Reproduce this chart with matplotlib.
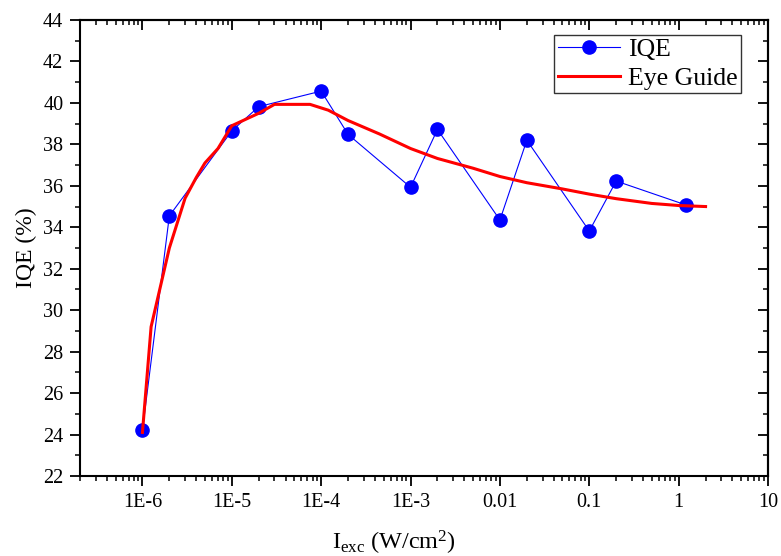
import matplotlib
matplotlib.use("Agg")
import matplotlib.pyplot as plt
from matplotlib.ticker import FixedLocator, FixedFormatter, LogLocator, MultipleLocator, NullFormatter

plt.rcParams['font.family'] = ['Liberation Serif', 'DejaVu Serif']
plt.rcParams['mathtext.fontset'] = 'custom'
plt.rcParams['mathtext.rm'] = 'Liberation Serif'
plt.rcParams['mathtext.it'] = 'Liberation Serif:italic'

# IQE data
iexc = [1e-6, 2e-6, 1e-5, 2e-5, 1e-4, 2e-4, 1e-3, 2e-3, 0.01, 0.02, 0.1, 0.2, 1.2]
iqe = [24.2, 34.55, 38.65, 39.82, 40.57, 38.48, 35.93, 38.72, 34.35, 38.2, 33.82, 36.23, 35.08]

# eye guide curve
guide_x = [1e-6, 1.25e-6, 2e-6, 3e-6, 4e-6, 5e-6, 7e-6, 1e-5, 2e-5, 3e-5, 7.5e-5, 1.2e-4,
           2e-4, 4.5e-4, 1e-3, 2e-3, 5e-3, 0.01, 0.02, 0.05, 0.1, 0.2, 0.5, 1, 2]
guide_y = [24.1, 29.2, 33.0, 35.4, 36.4, 37.1, 37.8, 38.9, 39.5, 39.93, 39.93, 39.65,
           39.15, 38.5, 37.8, 37.32, 36.85, 36.45, 36.15, 35.85, 35.6, 35.38, 35.15, 35.05, 35.0]

xticks = [1e-6, 1e-5, 1e-4, 1e-3, 0.01, 0.1, 1, 10]
xticklabels = ['1E-6', '1E-5', '1E-4', '1E-3', '0.01', '0.1', '1', '10']

fig = plt.figure(figsize=(7.81, 5.56), dpi=100)
ax = fig.add_axes([0.1024, 0.1439, 0.881, 0.8201])

ax.plot(iexc, iqe, '-o', color='#0000ff', lw=0.8, markersize=9.5, label='IQE')
ax.plot(guide_x, guide_y, '-', color='#ff0000', lw=2.2, label='Eye Guide')

ax.set_xscale('log')
ax.set_xlim(2e-7, 10)
ax.set_ylim(22, 44)
ax.xaxis.set_major_locator(FixedLocator(xticks))
ax.xaxis.set_major_formatter(FixedFormatter(xticklabels))
ax.xaxis.set_minor_locator(LogLocator(base=10, subs=range(2, 10), numticks=20))
ax.xaxis.set_minor_formatter(NullFormatter())
ax.yaxis.set_major_locator(MultipleLocator(2))
ax.yaxis.set_minor_locator(MultipleLocator(1))

ax.tick_params(which='major', direction='out', length=7, width=1.3, labelsize=14.5, pad=5)
ax.tick_params(which='minor', direction='out', length=3.5, width=1.1)
for s in ax.spines.values():
    s.set_linewidth(1.5)

# mirrored axes with inward ticks
top = ax.secondary_xaxis('top')
top.xaxis.set_major_locator(FixedLocator(xticks))
top.xaxis.set_minor_locator(LogLocator(base=10, subs=range(2, 10), numticks=20))
top.xaxis.set_major_formatter(NullFormatter())
top.xaxis.set_minor_formatter(NullFormatter())
top.tick_params(which='major', direction='in', length=7, width=1.3)
top.tick_params(which='minor', direction='in', length=3.5, width=1.1)
top.spines['top'].set_linewidth(1.5)

right = ax.secondary_yaxis('right')
right.yaxis.set_major_locator(MultipleLocator(2))
right.yaxis.set_minor_locator(MultipleLocator(1))
right.yaxis.set_major_formatter(NullFormatter())
right.tick_params(which='major', direction='in', length=7, width=1.3)
right.tick_params(which='minor', direction='in', length=3.5, width=1.1)
right.spines['right'].set_linewidth(1.5)

ax.set_xlabel(r'I$_{\rm exc}$ (W/cm$^2$)', fontsize=17.5)
ax.xaxis.set_label_coords(0.456, -0.115)
ax.set_ylabel('IQE (%)', fontsize=17, labelpad=4)

leg = ax.legend(loc='upper right', bbox_to_anchor=(0.961, 0.968), fontsize=18.5, frameon=True,
                fancybox=False, edgecolor='black', handlelength=2.4, handletextpad=0.3,
                borderpad=0.15, labelspacing=0.2, borderaxespad=0)
leg.get_frame().set_linewidth(1.0)

fig.savefig('out.png', dpi=100)
